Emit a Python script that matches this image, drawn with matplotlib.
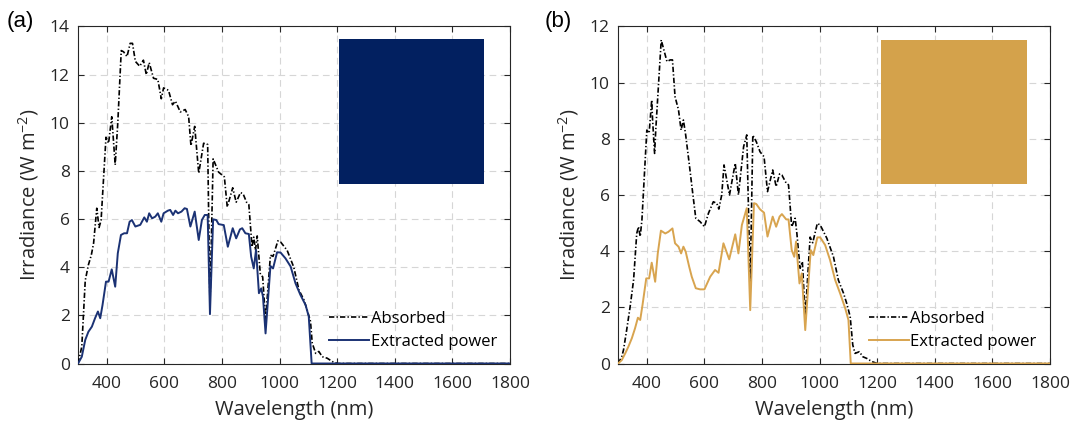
import matplotlib
matplotlib.use("Agg")
from matplotlib import pyplot as plt
from matplotlib.patches import Rectangle

# fuente parecida a la del original
plt.rcParams['font.family'] = ['Open Sans', 'DejaVu Sans']

# ---- panel (a): datos ----
wl_a_abs = [300, 313, 325, 336, 346, 354, 365, 373, 380, 397, 406, 417, 429, 438, 450, 458, 470,
            481, 489, 499, 514, 527, 537, 547, 562, 577, 589, 597, 614, 628, 638, 655, 672, 684,
            692, 705, 719, 736, 750, 758, 769, 788, 808, 818, 837, 849, 864, 873, 885, 893, 904,
            910, 916, 922, 933, 941, 951, 968, 977, 994, 1003, 1026, 1049, 1067, 1084, 1096,
            1107, 1113, 1125, 1136, 1148, 1165, 1183, 1200, 1800]
a_abs = [0, 0.7, 3.45, 4.1, 4.5, 5.0, 6.45, 5.65, 5.95, 9.4, 9.15, 10.25, 8.25, 10.0, 13.0, 12.95,
         12.75, 13.3, 13.3, 12.55, 12.35, 12.6, 12.0, 12.5, 11.85, 11.8, 11.0, 11.45, 11.35, 10.75,
         10.9, 10.45, 10.55, 10.25, 9.05, 9.85, 7.9, 9.15, 9.1, 2.4, 8.5, 7.95, 7.75, 6.5, 7.3, 6.7,
         7.1, 7.05, 6.7, 6.6, 4.85, 5.25, 4.7, 5.3, 3.7, 3.6, 1.8, 4.5, 4.45, 5.1, 5.05, 4.7, 4.0,
         3.05, 2.65, 2.2, 1.75, 0.85, 0.42, 0.5, 0.28, 0.22, 0.08, 0, 0]

wl_a_ext = [300, 313, 325, 336, 348, 359, 369, 377, 385, 397, 406, 417, 429, 438, 449, 460, 470,
            479, 487, 499, 516, 530, 539, 547, 557, 568, 577, 589, 597, 612, 620, 630, 638, 647,
            659, 670, 678, 690, 705, 719, 730, 740, 750, 758, 769, 780, 788, 806, 820, 837, 849,
            862, 870, 881, 893, 901, 910, 918, 928, 936, 942, 951, 968, 977, 991, 1003, 1020,
            1038, 1055, 1072, 1090, 1101, 1111, 1800]
a_ext = [0, 0.28, 0.98, 1.32, 1.53, 1.88, 2.16, 1.88, 2.43, 3.4, 3.4, 3.91, 3.19, 4.58, 5.34, 5.41,
         5.41, 5.89, 5.96, 5.69, 5.76, 6.07, 5.89, 6.24, 6.03, 6.1, 6.24, 5.89, 6.24, 6.35, 6.38,
         6.17, 6.35, 6.24, 6.31, 6.45, 6.42, 5.69, 6.31, 5.13, 5.96, 6.17, 6.17, 2.05, 5.99, 5.96,
         5.79, 5.75, 4.85, 5.62, 5.2, 5.57, 5.62, 5.41, 5.38, 4.44, 3.95, 4.72, 2.92, 3.12, 2.78,
         1.25, 4.05, 3.95, 4.62, 4.61, 4.37, 4.03, 3.33, 2.85, 2.43, 1.95, 0, 0]

# ---- panel (b) ----
wl_b_abs = [300, 313, 319, 330, 342, 354, 365, 371, 377, 383, 400, 408, 417, 420, 427, 431, 450,
            470, 481, 489, 498, 510, 519, 527, 535, 547, 558, 570, 585, 600, 614, 631, 643, 650,
            660, 668, 687, 707, 718, 736, 747, 759, 768, 780, 793, 807, 819, 837, 849, 861, 869,
            884, 892, 903, 915, 921, 932, 940, 950, 967, 976, 992, 1002, 1025, 1048, 1065, 1083,
            1094, 1106, 1115, 1123, 1138, 1150, 1164, 1181, 1200, 1800]
b_abs = [0, 0.24, 0.48, 1.19, 2.02, 2.97, 4.63, 4.87, 4.52, 5.11, 8.31, 8.2, 9.38, 8.67, 7.48, 8.31,
         11.52, 10.75, 10.81, 10.81, 9.5, 9.03, 8.31, 8.67, 8.13, 7.13, 6.18, 5.17, 5.05, 4.87,
         5.35, 5.76, 5.7, 5.5, 6.0, 7.07, 6.0, 7.13, 6.0, 7.72, 8.14, 2.8, 8.13, 7.9, 7.54, 7.36,
         6.12, 6.89, 6.3, 6.75, 6.71, 6.42, 6.36, 4.87, 5.17, 4.63, 3.39, 3.63, 1.67, 4.5, 4.3,
         4.99, 4.93, 4.46, 3.8, 2.97, 2.5, 2.14, 1.67, 0.66, 0.36, 0.42, 0.24, 0.18, 0.07, 0, 0]

wl_b_ext = [300, 313, 325, 336, 348, 359, 369, 377, 385, 398, 408, 417, 429, 438, 449, 464, 475,
            489, 498, 510, 519, 527, 535, 547, 556, 570, 585, 600, 620, 637, 649, 666, 686, 707,
            718, 730, 747, 759, 772, 780, 793, 807, 819, 837, 849, 861, 869, 884, 892, 903, 912,
            918, 930, 938, 950, 969, 978, 992, 1002, 1019, 1036, 1054, 1071, 1089, 1100, 1108, 1800]
b_ext = [0, 0.12, 0.36, 0.6, 0.9, 1.25, 1.63, 1.55, 2.08, 3.03, 3.03, 3.59, 2.91, 3.92, 4.73, 4.63,
         4.69, 4.81, 4.28, 4.16, 3.92, 4.16, 3.98, 3.45, 3.09, 2.68, 2.64, 2.64, 3.09, 3.33, 3.23,
         4.28, 3.71, 4.6, 3.92, 4.93, 5.53, 1.9, 5.71, 5.68, 5.49, 5.37, 4.52, 5.23, 4.87, 5.23,
         5.32, 5.13, 5.13, 4.04, 3.8, 4.34, 2.85, 3.21, 1.19, 4.04, 3.86, 4.49, 4.49, 4.22, 3.69,
         2.97, 2.5, 1.96, 1.55, 0, 0]

etiquetas = ['(a)', '(b)']
limites_y = [14, 12]
color_linea = ['#1b3274', '#d8a44f']
color_cuadro = ['#022060', '#d4a24b']
textos_leyenda = ['Absorbed', 'Extracted power']

gris = '#262626'

fig = plt.figure(figsize=(10.75, 4.28), dpi=100)
ax_a = fig.add_axes([0.0726, 0.1507, 0.4019, 0.7874])
ax_b = fig.add_axes([0.5749, 0.1507, 0.4019, 0.7874])

datos = [(wl_a_abs, a_abs, wl_a_ext, a_ext), (wl_b_abs, b_abs, wl_b_ext, b_ext)]
cuadros = [(0.604, 0.533, 0.336, 0.430), (0.609, 0.532, 0.338, 0.428)]

for k, ax in enumerate([ax_a, ax_b]):
    wl1, y1, wl2, y2 = datos[k]
    # linea punto-raya estilo matlab
    ax.plot(wl1, y1, color='black', linestyle=(0, (3.2, 1.3, 0.8, 1.3)), linewidth=1.2,
            label=textos_leyenda[0], zorder=3)
    ax.plot(wl2, y2, color=color_linea[k], linestyle='-', linewidth=1.4,
            label=textos_leyenda[1], zorder=4)

    # cuadro de color
    x0, y0, w, h = cuadros[k]
    ax.add_patch(Rectangle((x0, y0), w, h, transform=ax.transAxes,
                           facecolor=color_cuadro[k], edgecolor='none', zorder=5))

    ax.set_xlim(300, 1800)
    ax.set_ylim(0, limites_y[k])
    ax.set_xticks(range(400, 1801, 200))
    ax.set_yticks(range(0, limites_y[k] + 1, 2))

    ax.grid(True, color='#d6d6d6', linestyle=(0, (6, 4)), linewidth=0.8)
    ax.set_axisbelow(True)

    ax.tick_params(direction='in', top=True, right=True, length=4, width=0.8,
                   colors=gris, labelsize=12.5)
    ax.tick_params(axis='x', pad=9)
    ax.tick_params(axis='y', pad=6)
    for sp in ax.spines.values():
        sp.set_color(gris)
        sp.set_linewidth(0.8)

    ax.set_xlabel('Wavelength (nm)', fontsize=14.5, color=gris, labelpad=6)
    ax.set_ylabel('Irradiance (W m$^{\\mathregular{-2}}$)', fontsize=14.5, color=gris, labelpad=6)

    ax.legend(loc='lower right', frameon=False, fontsize=12, handlelength=2.4,
              handletextpad=0.1, labelspacing=0.45, borderaxespad=0.4)

    fig.text([0.0065, 0.507][k], 0.949, etiquetas[k], fontsize=16, color='black', va='center',
             family=['Liberation Sans', 'DejaVu Sans'])

fig.savefig('out.png', dpi=100)
